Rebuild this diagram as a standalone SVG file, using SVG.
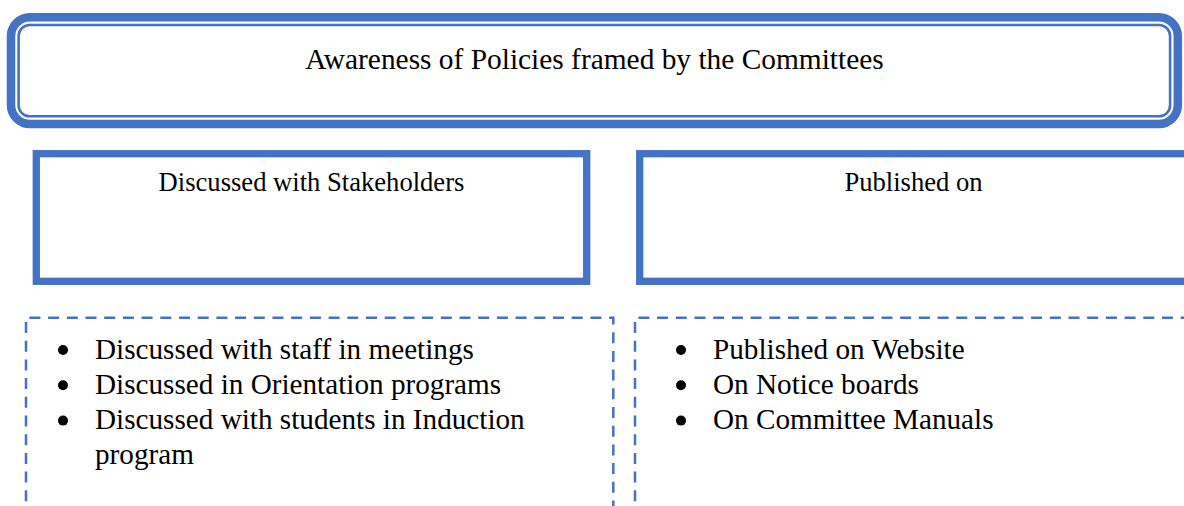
<svg xmlns="http://www.w3.org/2000/svg" width="1184" height="506" viewBox="0 0 1184 506">
<style>
.t{font-family:"Liberation Serif","Times New Roman",serif;fill:#000}
.blue{fill:none;stroke:#4472C4}
.dash{fill:none;stroke:#4472C4;stroke-width:2.5;stroke-dasharray:11 7.7}
</style>
<rect width="1184" height="506" fill="#fff"/>
<g id="title">
<rect class="blue" x="11" y="17.3" width="1166.8" height="106.7" rx="19" stroke-width="8.5"/>
<rect class="blue" x="18.6" y="25" width="1151.5" height="91.3" rx="11" stroke-width="2.6"/>
<text class="t" x="594.5" y="68.8" font-size="29.4" text-anchor="middle">Awareness of Policies framed by the Committees</text>
</g>
<g id="stakeholders">
<rect class="blue" x="36.3" y="153.7" width="550.4" height="127.6" stroke-width="7.3"/>
<text class="t" x="311.5" y="191" font-size="26.6" text-anchor="middle">Discussed with Stakeholders</text>
</g>
<g id="published">
<rect class="blue" x="639.7" y="153.7" width="560" height="127.6" stroke-width="7.3"/>
<text class="t" x="913.5" y="191" font-size="26.6" text-anchor="middle">Published on</text>
</g>
<g id="stakeholders-list">
<path class="dash" d="M26 520 V317.7 H613.3 V520"/>
<g class="t" font-size="29.2">
<circle cx="63" cy="350" r="5"/>
<circle cx="63" cy="385.3" r="5"/>
<circle cx="63" cy="420.6" r="5"/>
<text x="95" y="358.5">Discussed with staff in meetings</text>
<text x="95" y="393.7">Discussed in Orientation programs</text>
<text x="95" y="428.9">Discussed with students in Induction</text>
<text x="95" y="463.7">program</text>
</g>
</g>
<g id="published-list">
<path class="dash" d="M635 520 V317.7 H1200"/>
<g class="t" font-size="29.2">
<circle cx="681" cy="350" r="5"/>
<circle cx="681" cy="385.3" r="5"/>
<circle cx="681" cy="420.6" r="5"/>
<text x="713" y="358.5">Published on Website</text>
<text x="713" y="393.7">On Notice boards</text>
<text x="713" y="428.9">On Committee Manuals</text>
</g>
</g>
<g id="connectors"></g>
</svg>
